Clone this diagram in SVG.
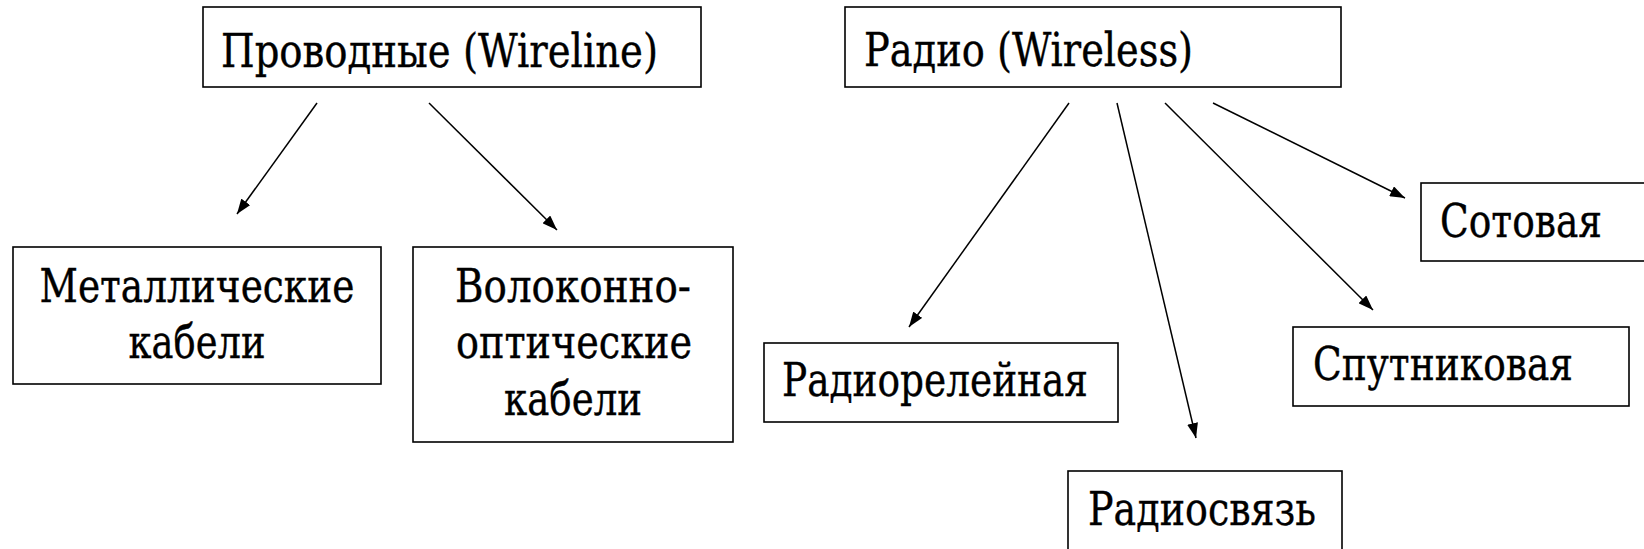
<svg xmlns="http://www.w3.org/2000/svg" width="1644" height="549" viewBox="0 0 1644 549">
  <style>
    .box { fill: #fff; stroke: #000; stroke-width: 1.6; }
    .lbl { font-family: "DejaVu Serif", "Liberation Serif", serif; font-size: 47px; fill: #000; stroke: #000; stroke-width: 0.4; }
    .mid { text-anchor: middle; }
    .conn line { stroke: #000; stroke-width: 1.5; fill: none; marker-end: url(#arrow); }
  </style>
  <defs>
    <marker id="arrow" markerUnits="userSpaceOnUse" markerWidth="15" markerHeight="11" refX="15" refY="5.5" orient="auto">
      <path d="M0,0 L15,5.5 L0,11 z" fill="#000"/>
    </marker>
  </defs>

  <rect width="1644" height="549" fill="#fff"/>

  <!-- wired branch -->
  <g id="wireline">
    <rect class="box" x="203" y="7" width="498" height="80"/>
    <text class="lbl" x="221" y="67" textLength="437" lengthAdjust="spacingAndGlyphs">Проводные (Wireline)</text>
  </g>
  <g id="metal-cables">
    <rect class="box" x="13" y="247" width="368" height="137"/>
    <text class="lbl mid" x="197" y="302" textLength="315" lengthAdjust="spacingAndGlyphs">Металлические</text>
    <text class="lbl mid" x="197" y="358" textLength="137" lengthAdjust="spacingAndGlyphs">кабели</text>
  </g>
  <g id="fiber-cables">
    <rect class="box" x="413" y="247" width="320" height="195"/>
    <text class="lbl mid" x="573" y="302" textLength="236" lengthAdjust="spacingAndGlyphs">Волоконно-</text>
    <text class="lbl mid" x="574" y="358" textLength="236" lengthAdjust="spacingAndGlyphs">оптические</text>
    <text class="lbl mid" x="573" y="415" textLength="138" lengthAdjust="spacingAndGlyphs">кабели</text>
  </g>

  <!-- wireless branch -->
  <g id="wireless">
    <rect class="box" x="845" y="7" width="496" height="80"/>
    <text class="lbl" x="864" y="66" textLength="329" lengthAdjust="spacingAndGlyphs">Радио (Wireless)</text>
  </g>
  <g id="radio-relay">
    <rect class="box" x="764" y="343" width="354" height="79"/>
    <text class="lbl" x="782" y="396" textLength="306" lengthAdjust="spacingAndGlyphs">Радиорелейная</text>
  </g>
  <g id="radio">
    <rect class="box" x="1068" y="471" width="274" height="100"/>
    <text class="lbl" x="1088" y="525" textLength="228" lengthAdjust="spacingAndGlyphs">Радиосвязь</text>
  </g>
  <g id="satellite">
    <rect class="box" x="1293" y="327" width="336" height="79"/>
    <text class="lbl" x="1313" y="380" textLength="260" lengthAdjust="spacingAndGlyphs">Спутниковая</text>
  </g>
  <g id="cellular">
    <rect class="box" x="1421" y="183" width="240" height="78"/>
    <text class="lbl" x="1440" y="237" textLength="162" lengthAdjust="spacingAndGlyphs">Сотовая</text>
  </g>

  <!-- connectors -->
  <g id="connectors" class="conn">
    <line x1="317" y1="103" x2="237" y2="214"/>
    <line x1="429" y1="103" x2="557" y2="230"/>
    <line x1="1069" y1="103" x2="909" y2="327"/>
    <line x1="1117" y1="103" x2="1196" y2="438"/>
    <line x1="1165" y1="103" x2="1373" y2="310"/>
    <line x1="1213" y1="103" x2="1405" y2="198"/>
  </g>
</svg>
